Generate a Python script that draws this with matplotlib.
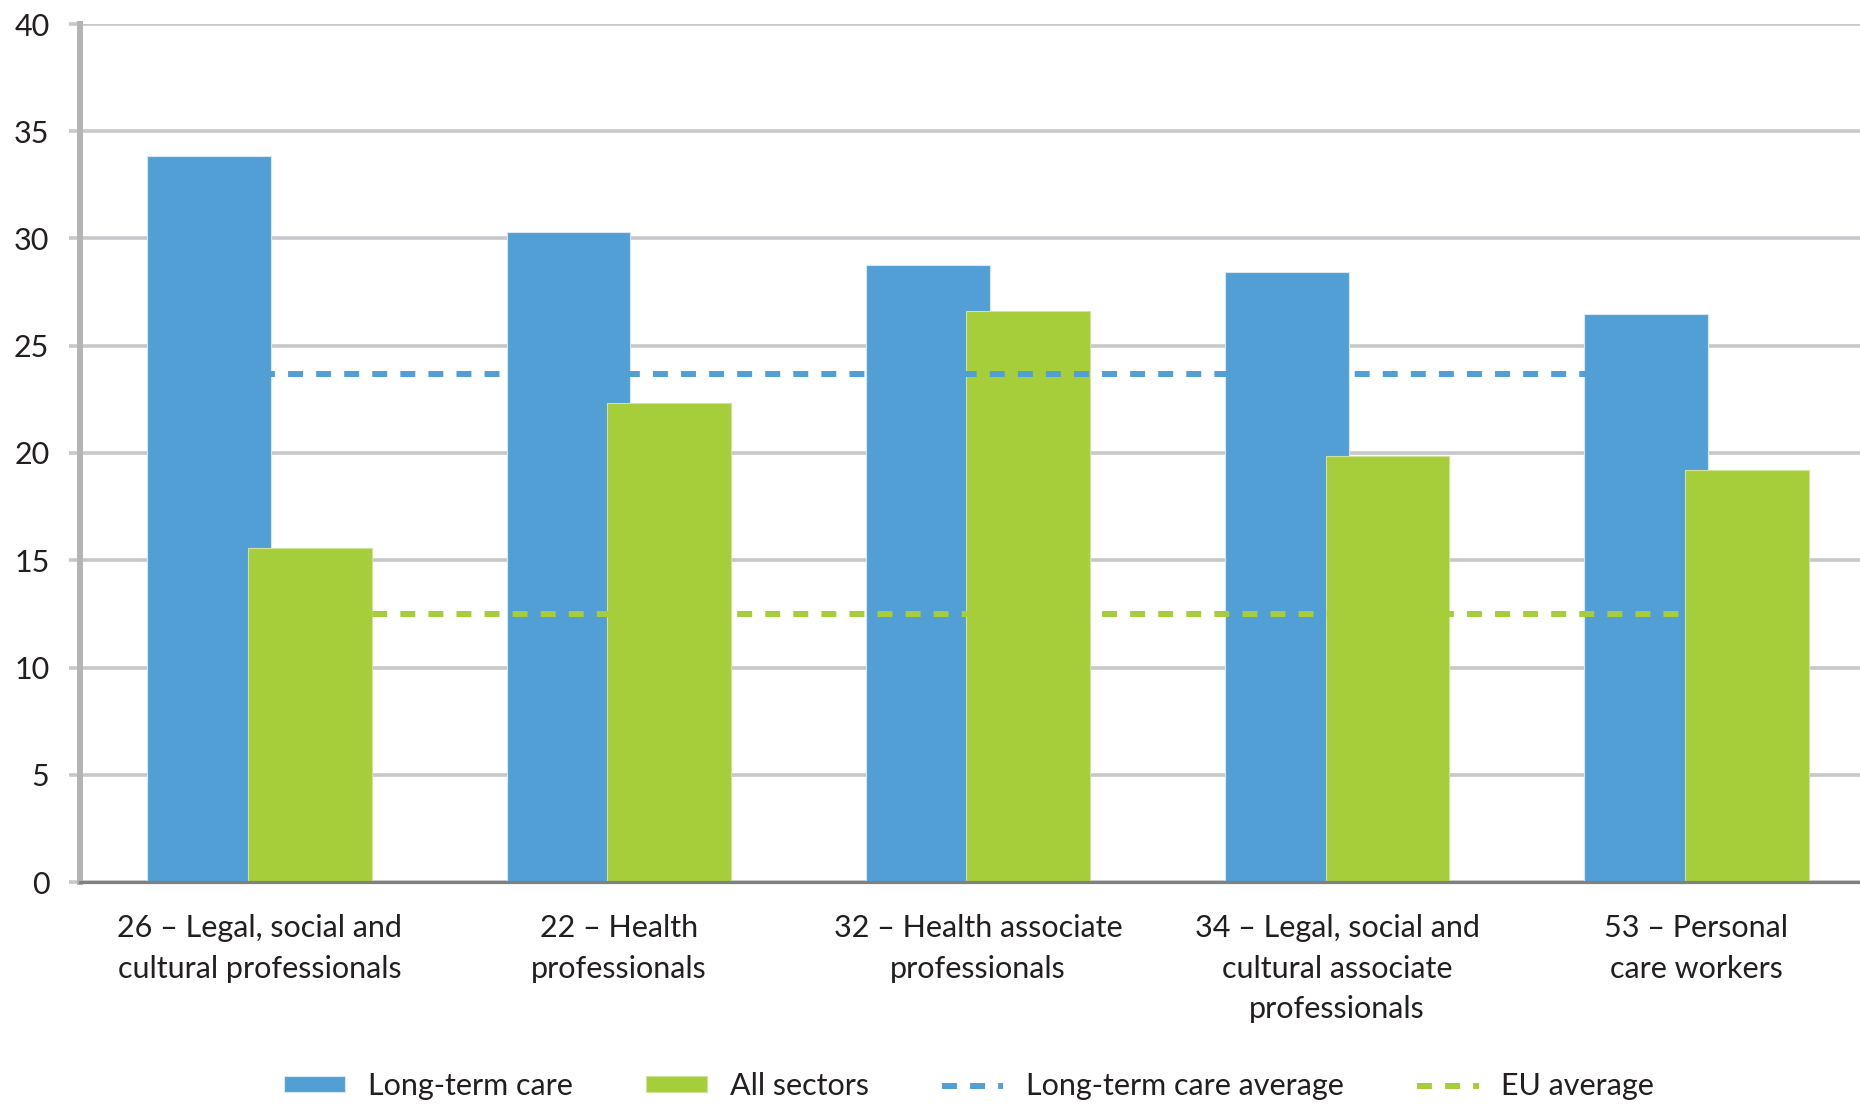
import matplotlib
matplotlib.use('Agg')
import matplotlib.pyplot as plt
import numpy as np

# datos
categorias = ['26 – Legal, social and\ncultural professionals',
              '22 – Health\nprofessionals',
              '32 – Health associate\nprofessionals',
              '34 – Legal, social and\ncultural associate\nprofessionals',
              '53 – Personal\ncare workers']
larga_duracion = [33.85, 30.3, 28.75, 28.45, 26.5]
todos_sectores = [15.55, 22.35, 26.6, 19.85, 19.2]
media_larga_duracion = 23.7
media_ue = 12.5

plt.rcParams['font.family'] = ['Lato', 'DejaVu Sans']

azul = '#529fd6'
verde = '#a6cd3a'
texto = '#231f20'

fig = plt.figure(figsize=(18.6, 11.05), dpi=100)
W, H = 1860, 1105
ax = fig.add_axes([80 / W, 1 - 882 / H, 1796 / W, 858 / H])

x = np.arange(len(categorias))
ancho = 0.345
b1 = ax.bar(x - 0.14, larga_duracion, ancho, color=azul, edgecolor='#d6e8f5', linewidth=0.8,
            zorder=3, label='Long-term care')
b2 = ax.bar(x + 0.14, todos_sectores, ancho, color=verde, edgecolor='#cfe39a', linewidth=0.8,
            zorder=3, label='All sectors')

l1, = ax.plot(x, [media_larga_duracion] * len(x), color=azul, lw=4.3, dashes=(2.5, 2.2),
              dash_capstyle='butt', zorder=4, label='Long-term care average')
l2, = ax.plot(x, [media_ue] * len(x), color=verde, lw=4.3, dashes=(2.5, 2.2),
              dash_capstyle='butt', zorder=4, label='EU average')

ax.set_xlim(-0.5, 4.5)
ax.set_ylim(0, 40)
ax.set_yticks(range(0, 41, 5))
ax.yaxis.grid(True, color='#c8c8cc', lw=2.6, zorder=0)
ax.set_axisbelow(True)

ax.set_xticks(x)
ax.set_xticklabels(categorias, fontsize=22, color=texto, linespacing=1.55)
ax.tick_params(axis='x', length=0, pad=23)
ax.tick_params(axis='y', length=8, width=2.6, color='#c8c8cc', pad=14,
               labelsize=22, labelcolor=texto)

for lado in ['top', 'right']:
    ax.spines[lado].set_visible(False)
ax.spines['left'].set_color('#b3b3b3')
ax.spines['left'].set_linewidth(4.3)
ax.spines['left'].set_zorder(5)
ax.spines['bottom'].set_color('#808080')
ax.spines['bottom'].set_linewidth(2.3)
ax.spines['bottom'].set_zorder(5)

fig.legend([b1, b2, l1, l2],
           ['Long-term care', 'All sectors', 'Long-term care average', 'EU average'],
           loc='center', bbox_to_anchor=(969 / W, 1 - 1086 / H), ncol=4,
           frameon=False, fontsize=22, handlelength=2.0, handleheight=0.4,
           handletextpad=0.75, columnspacing=2.4, labelcolor=texto)

fig.savefig('out.png', dpi=100)
